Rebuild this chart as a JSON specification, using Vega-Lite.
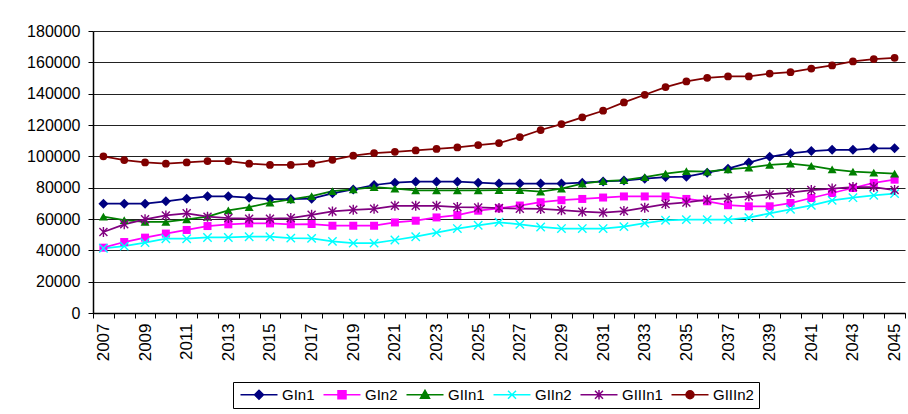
{
  "$schema": "https://vega.github.io/schema/vega-lite/v6.json",
  "width": 812,
  "height": 282,
  "autosize": {"type": "none"},
  "padding": {"left": 93, "top": 31, "right": 3, "bottom": 101},
  "background": "white",
  "config": {
    "view": {"stroke": null},
    "font": "Liberation Sans",
    "axis": {"domainColor": "black", "tickColor": "black", "labelColor": "black", "labelFont": "Liberation Sans", "titleFont": "Liberation Sans"},
    "legend": {"labelFont": "Liberation Sans"}
  },
  "data": {"values": [
    {"year":2007,"series":"GIn1","value":69800},{"year":2008,"series":"GIn1","value":69800},{"year":2009,"series":"GIn1","value":69800},{"year":2010,"series":"GIn1","value":71300},{"year":2011,"series":"GIn1","value":73000},{"year":2012,"series":"GIn1","value":74500},{"year":2013,"series":"GIn1","value":74500},{"year":2014,"series":"GIn1","value":73600},{"year":2015,"series":"GIn1","value":72700},{"year":2016,"series":"GIn1","value":72700},{"year":2017,"series":"GIn1","value":73000},{"year":2018,"series":"GIn1","value":76400},{"year":2019,"series":"GIn1","value":78900},{"year":2020,"series":"GIn1","value":81700},{"year":2021,"series":"GIn1","value":83200},{"year":2022,"series":"GIn1","value":83800},{"year":2023,"series":"GIn1","value":83800},{"year":2024,"series":"GIn1","value":83800},{"year":2025,"series":"GIn1","value":83200},{"year":2026,"series":"GIn1","value":82600},{"year":2027,"series":"GIn1","value":82600},{"year":2028,"series":"GIn1","value":82600},{"year":2029,"series":"GIn1","value":82600},{"year":2030,"series":"GIn1","value":83200},{"year":2031,"series":"GIn1","value":84000},{"year":2032,"series":"GIn1","value":84500},{"year":2033,"series":"GIn1","value":85700},{"year":2034,"series":"GIn1","value":86800},{"year":2035,"series":"GIn1","value":87000},{"year":2036,"series":"GIn1","value":89600},{"year":2037,"series":"GIn1","value":92100},{"year":2038,"series":"GIn1","value":96000},{"year":2039,"series":"GIn1","value":99700},{"year":2040,"series":"GIn1","value":101900},{"year":2041,"series":"GIn1","value":103400},{"year":2042,"series":"GIn1","value":104200},{"year":2043,"series":"GIn1","value":104200},{"year":2044,"series":"GIn1","value":105100},{"year":2045,"series":"GIn1","value":105100},
    {"year":2007,"series":"GIn2","value":41700},{"year":2008,"series":"GIn2","value":45300},{"year":2009,"series":"GIn2","value":48100},{"year":2010,"series":"GIn2","value":50700},{"year":2011,"series":"GIn2","value":53000},{"year":2012,"series":"GIn2","value":55500},{"year":2013,"series":"GIn2","value":56600},{"year":2014,"series":"GIn2","value":57200},{"year":2015,"series":"GIn2","value":57200},{"year":2016,"series":"GIn2","value":56600},{"year":2017,"series":"GIn2","value":56800},{"year":2018,"series":"GIn2","value":55700},{"year":2019,"series":"GIn2","value":55700},{"year":2020,"series":"GIn2","value":55700},{"year":2021,"series":"GIn2","value":57800},{"year":2022,"series":"GIn2","value":58900},{"year":2023,"series":"GIn2","value":61000},{"year":2024,"series":"GIn2","value":62500},{"year":2025,"series":"GIn2","value":65300},{"year":2026,"series":"GIn2","value":66800},{"year":2027,"series":"GIn2","value":68600},{"year":2028,"series":"GIn2","value":70700},{"year":2029,"series":"GIn2","value":72000},{"year":2030,"series":"GIn2","value":72800},{"year":2031,"series":"GIn2","value":73700},{"year":2032,"series":"GIn2","value":74400},{"year":2033,"series":"GIn2","value":74400},{"year":2034,"series":"GIn2","value":74400},{"year":2035,"series":"GIn2","value":72800},{"year":2036,"series":"GIn2","value":71300},{"year":2037,"series":"GIn2","value":68800},{"year":2038,"series":"GIn2","value":68100},{"year":2039,"series":"GIn2","value":68100},{"year":2040,"series":"GIn2","value":70200},{"year":2041,"series":"GIn2","value":73400},{"year":2042,"series":"GIn2","value":76600},{"year":2043,"series":"GIn2","value":79800},{"year":2044,"series":"GIn2","value":83000},{"year":2045,"series":"GIn2","value":85100},
    {"year":2007,"series":"GIIn1","value":61500},{"year":2008,"series":"GIIn1","value":59300},{"year":2009,"series":"GIIn1","value":58100},{"year":2010,"series":"GIIn1","value":58100},{"year":2011,"series":"GIIn1","value":59800},{"year":2012,"series":"GIIn1","value":61500},{"year":2013,"series":"GIIn1","value":65500},{"year":2014,"series":"GIIn1","value":67600},{"year":2015,"series":"GIIn1","value":70400},{"year":2016,"series":"GIIn1","value":72500},{"year":2017,"series":"GIIn1","value":74600},{"year":2018,"series":"GIIn1","value":77800},{"year":2019,"series":"GIIn1","value":78900},{"year":2020,"series":"GIIn1","value":80400},{"year":2021,"series":"GIIn1","value":79400},{"year":2022,"series":"GIIn1","value":78300},{"year":2023,"series":"GIIn1","value":78300},{"year":2024,"series":"GIIn1","value":78300},{"year":2025,"series":"GIIn1","value":78300},{"year":2026,"series":"GIIn1","value":78500},{"year":2027,"series":"GIIn1","value":78500},{"year":2028,"series":"GIIn1","value":77400},{"year":2029,"series":"GIIn1","value":79400},{"year":2030,"series":"GIIn1","value":82600},{"year":2031,"series":"GIIn1","value":84200},{"year":2032,"series":"GIIn1","value":84800},{"year":2033,"series":"GIIn1","value":86800},{"year":2034,"series":"GIIn1","value":88900},{"year":2035,"series":"GIIn1","value":90600},{"year":2036,"series":"GIIn1","value":90200},{"year":2037,"series":"GIIn1","value":91700},{"year":2038,"series":"GIIn1","value":92800},{"year":2039,"series":"GIIn1","value":94500},{"year":2040,"series":"GIIn1","value":95400},{"year":2041,"series":"GIIn1","value":93900},{"year":2042,"series":"GIIn1","value":91700},{"year":2043,"series":"GIIn1","value":90200},{"year":2044,"series":"GIIn1","value":89600},{"year":2045,"series":"GIIn1","value":88900},
    {"year":2007,"series":"GIIn2","value":41300},{"year":2008,"series":"GIIn2","value":42700},{"year":2009,"series":"GIIn2","value":44900},{"year":2010,"series":"GIIn2","value":47400},{"year":2011,"series":"GIIn2","value":47400},{"year":2012,"series":"GIIn2","value":48200},{"year":2013,"series":"GIIn2","value":48200},{"year":2014,"series":"GIIn2","value":48700},{"year":2015,"series":"GIIn2","value":48700},{"year":2016,"series":"GIIn2","value":47800},{"year":2017,"series":"GIIn2","value":47600},{"year":2018,"series":"GIIn2","value":45700},{"year":2019,"series":"GIIn2","value":44600},{"year":2020,"series":"GIIn2","value":44600},{"year":2021,"series":"GIIn2","value":46600},{"year":2022,"series":"GIIn2","value":48700},{"year":2023,"series":"GIIn2","value":51300},{"year":2024,"series":"GIIn2","value":53900},{"year":2025,"series":"GIIn2","value":56000},{"year":2026,"series":"GIIn2","value":57900},{"year":2027,"series":"GIIn2","value":56600},{"year":2028,"series":"GIIn2","value":54900},{"year":2029,"series":"GIIn2","value":53900},{"year":2030,"series":"GIIn2","value":53900},{"year":2031,"series":"GIIn2","value":53900},{"year":2032,"series":"GIIn2","value":55100},{"year":2033,"series":"GIIn2","value":57400},{"year":2034,"series":"GIIn2","value":59200},{"year":2035,"series":"GIIn2","value":59600},{"year":2036,"series":"GIIn2","value":59600},{"year":2037,"series":"GIIn2","value":59600},{"year":2038,"series":"GIIn2","value":60900},{"year":2039,"series":"GIIn2","value":63600},{"year":2040,"series":"GIIn2","value":66200},{"year":2041,"series":"GIIn2","value":68700},{"year":2042,"series":"GIIn2","value":71900},{"year":2043,"series":"GIIn2","value":73600},{"year":2044,"series":"GIIn2","value":75100},{"year":2045,"series":"GIIn2","value":76200},
    {"year":2007,"series":"GIIIn1","value":51700},{"year":2008,"series":"GIIIn1","value":56600},{"year":2009,"series":"GIIIn1","value":59800},{"year":2010,"series":"GIIIn1","value":62300},{"year":2011,"series":"GIIIn1","value":63600},{"year":2012,"series":"GIIIn1","value":61500},{"year":2013,"series":"GIIIn1","value":60600},{"year":2014,"series":"GIIIn1","value":60200},{"year":2015,"series":"GIIIn1","value":60200},{"year":2016,"series":"GIIIn1","value":60600},{"year":2017,"series":"GIIIn1","value":62700},{"year":2018,"series":"GIIIn1","value":64800},{"year":2019,"series":"GIIIn1","value":65900},{"year":2020,"series":"GIIIn1","value":66500},{"year":2021,"series":"GIIIn1","value":68400},{"year":2022,"series":"GIIIn1","value":68400},{"year":2023,"series":"GIIIn1","value":68400},{"year":2024,"series":"GIIIn1","value":67600},{"year":2025,"series":"GIIIn1","value":67400},{"year":2026,"series":"GIIIn1","value":67000},{"year":2027,"series":"GIIIn1","value":66600},{"year":2028,"series":"GIIIn1","value":66400},{"year":2029,"series":"GIIIn1","value":65600},{"year":2030,"series":"GIIIn1","value":64700},{"year":2031,"series":"GIIIn1","value":64100},{"year":2032,"series":"GIIIn1","value":65100},{"year":2033,"series":"GIIIn1","value":67200},{"year":2034,"series":"GIIIn1","value":69500},{"year":2035,"series":"GIIIn1","value":70600},{"year":2036,"series":"GIIIn1","value":72300},{"year":2037,"series":"GIIIn1","value":73400},{"year":2038,"series":"GIIIn1","value":74500},{"year":2039,"series":"GIIIn1","value":75700},{"year":2040,"series":"GIIIn1","value":76800},{"year":2041,"series":"GIIIn1","value":78500},{"year":2042,"series":"GIIIn1","value":79400},{"year":2043,"series":"GIIIn1","value":80400},{"year":2044,"series":"GIIIn1","value":80400},{"year":2045,"series":"GIIIn1","value":78500},
    {"year":2007,"series":"GIIIn2","value":100000},{"year":2008,"series":"GIIIn2","value":97600},{"year":2009,"series":"GIIIn2","value":96100},{"year":2010,"series":"GIIIn2","value":95300},{"year":2011,"series":"GIIIn2","value":96100},{"year":2012,"series":"GIIIn2","value":97000},{"year":2013,"series":"GIIIn2","value":97000},{"year":2014,"series":"GIIIn2","value":95300},{"year":2015,"series":"GIIIn2","value":94500},{"year":2016,"series":"GIIIn2","value":94500},{"year":2017,"series":"GIIIn2","value":95300},{"year":2018,"series":"GIIIn2","value":97800},{"year":2019,"series":"GIIIn2","value":100400},{"year":2020,"series":"GIIIn2","value":102100},{"year":2021,"series":"GIIIn2","value":102900},{"year":2022,"series":"GIIIn2","value":103800},{"year":2023,"series":"GIIIn2","value":104700},{"year":2024,"series":"GIIIn2","value":105700},{"year":2025,"series":"GIIIn2","value":107200},{"year":2026,"series":"GIIIn2","value":108500},{"year":2027,"series":"GIIIn2","value":112300},{"year":2028,"series":"GIIIn2","value":116800},{"year":2029,"series":"GIIIn2","value":120600},{"year":2030,"series":"GIIIn2","value":124900},{"year":2031,"series":"GIIIn2","value":129100},{"year":2032,"series":"GIIIn2","value":134400},{"year":2033,"series":"GIIIn2","value":139300},{"year":2034,"series":"GIIIn2","value":144200},{"year":2035,"series":"GIIIn2","value":147800},{"year":2036,"series":"GIIIn2","value":150100},{"year":2037,"series":"GIIIn2","value":151000},{"year":2038,"series":"GIIIn2","value":151000},{"year":2039,"series":"GIIIn2","value":152800},{"year":2040,"series":"GIIIn2","value":153700},{"year":2041,"series":"GIIIn2","value":156000},{"year":2042,"series":"GIIIn2","value":158000},{"year":2043,"series":"GIIIn2","value":160600},{"year":2044,"series":"GIIIn2","value":162100},{"year":2045,"series":"GIIIn2","value":162900}
  ]},
  "encoding": {
    "x": {
      "field": "year", "type": "ordinal", "bandPosition": 0.5,
      "scale": {"type": "band", "paddingInner": 0, "paddingOuter": 0},
      "axis": {"title": null, "labelAngle": 270, "labelAlign": "right", "labelBaseline": "middle", "labelExpr": "datum.value % 2 == 1 ? datum.label : ''", "tickBand": "extent", "tickSize": 5, "labelPadding": 5, "labelFontSize": 17, "grid": false, "domainWidth": 1.5, "labelOverlap": false}
    },
    "y": {
      "field": "value", "type": "quantitative",
      "scale": {"domain": [0, 180000], "nice": false},
      "axis": {"title": null, "values": [0,20000,40000,60000,80000,100000,120000,140000,160000,180000], "format": "d", "grid": true, "gridColor": "#222222", "gridOpacity": 1, "gridWidth": 1, "tickSize": 5, "labelPadding": 8, "labelFontSize": 16, "domainWidth": 1.5}
    },
    "color": {
      "field": "series", "type": "nominal",
      "scale": {"domain": ["GIn1","GIn2","GIIn1","GIIn2","GIIIn1","GIIIn2"], "range": ["#000080","#FF00FF","#008000","#00FFFF","#800080","#800000"]},
      "legend": {
        "title": null, "orient": "none", "legendX": 140, "legendY": 351, "direction": "horizontal",
        "strokeColor": "black", "padding": 5, "symbolSize": 100, "symbolStrokeWidth": 1.5, "symbolOpacity": 1,
        "labelFontSize": 15, "labelOffset": 29, "columnPadding": 5, "labelColor": "black"
      }
    }
  },
  "layer": [
    {"mark": {"type": "line", "strokeWidth": 1.75}},
    {"transform": [{"filter": "datum.series === 'GIn1'"}], "mark": {"type": "point", "shape": "diamond", "filled": true, "size": 100, "opacity": 1}},
    {"transform": [{"filter": "datum.series === 'GIn2'"}], "mark": {"type": "point", "shape": "square", "filled": true, "size": 64, "opacity": 1}},
    {"transform": [{"filter": "datum.series === 'GIIn1'"}], "mark": {"type": "point", "shape": "triangle-up", "filled": true, "size": 80, "opacity": 1}},
    {"transform": [{"filter": "datum.series === 'GIIn2'"}], "mark": {"type": "point", "shape": "M-1,-1L1,1M-1,1L1,-1", "filled": false, "size": 70, "strokeWidth": 1.4, "opacity": 1}},
    {"transform": [{"filter": "datum.series === 'GIIIn1'"}], "mark": {"type": "point", "shape": "M-1,-1L1,1M-1,1L1,-1M0,-1.25L0,1.25", "filled": false, "size": 64, "strokeWidth": 1.4, "opacity": 1}},
    {"transform": [{"filter": "datum.series === 'GIIIn2'"}], "mark": {"type": "point", "shape": "circle", "filled": true, "size": 60, "opacity": 1}},
    {
      "mark": {"type": "point", "filled": true, "size": 60, "opacity": 0},
      "encoding": {
        "shape": {"field": "series", "type": "nominal",
          "scale": {"domain": ["GIn1","GIn2","GIIn1","GIIn2","GIIIn1","GIIIn2"], "range": [
            "M-1,0L6.4,0M1.8,0L2.7,-0.9L3.6,0L2.7,0.9Z",
            "M-1,0L6.4,0M1.9,-0.8L3.5,-0.8L3.5,0.8L1.9,0.8Z",
            "M-1,0L6.4,0M2.7,-0.9L3.6,0.7L1.8,0.7Z",
            "M-1,0L6.4,0M1.9,-0.8L3.5,0.8M1.9,0.8L3.5,-0.8",
            "M-1,0L6.4,0M1.9,-0.8L3.5,0.8M1.9,0.8L3.5,-0.8M2.7,-0.95L2.7,0.95",
            "M-1,0L6.4,0M3.5,0A0.8,0.8 0 1,1 1.9,0A0.8,0.8 0 1,1 3.5,0Z"]},
          "legend": {
            "title": null, "orient": "none", "legendX": 140, "legendY": 351, "direction": "horizontal",
            "strokeColor": "black", "padding": 5, "symbolSize": 100, "symbolStrokeWidth": 1.5, "symbolOpacity": 1,
            "labelFontSize": 15, "labelOffset": 29, "columnPadding": 5, "labelColor": "black"
          }
        },
        "stroke": {"field": "series", "type": "nominal", "legend": null,
          "scale": {"domain": ["GIn1","GIn2","GIIn1","GIIn2","GIIIn1","GIIIn2"], "range": ["#000080","#FF00FF","#008000","#00FFFF","#800080","#800000"]}}
      }
    }
  ]
}
